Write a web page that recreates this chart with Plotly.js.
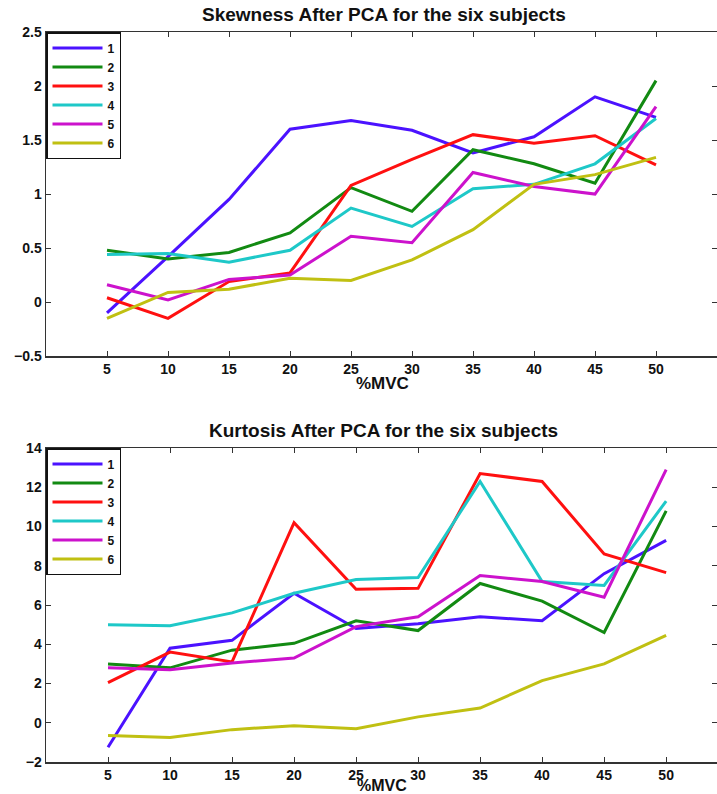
<!DOCTYPE html>
<html>
<head>
<meta charset="utf-8">
<script src="https://cdn.plot.ly/plotly-3.0.1.min.js"></script>
<style>html,body{margin:0;padding:0;background:#fff;}#chart{width:717px;height:794px;}</style>
</head>
<body>
<div id="chart"></div>
<script>
const mvc = [5, 10, 15, 20, 25, 30, 35, 40, 45, 50];
const seriesNames = ['1', '2', '3', '4', '5', '6'];
const colors = ['#4b12ff', '#128a12', '#ff1010', '#1ec8c8', '#cc12cc', '#c0c012'];

// Skewness after PCA
const skew1 = [-0.10, 0.42, 0.95, 1.60, 1.68, 1.59, 1.38, 1.53, 1.90, 1.71];
const skew2 = [0.48, 0.40, 0.46, 0.64, 1.06, 0.84, 1.41, 1.28, 1.10, 2.05];
const skew3 = [0.04, -0.15, 0.19, 0.27, 1.08, 1.32, 1.55, 1.47, 1.54, 1.27];
const skew4 = [0.44, 0.45, 0.37, 0.48, 0.87, 0.70, 1.05, 1.09, 1.28, 1.70];
const skew5 = [0.16, 0.02, 0.21, 0.25, 0.61, 0.55, 1.20, 1.07, 1.00, 1.81];
const skew6 = [-0.15, 0.09, 0.12, 0.22, 0.20, 0.39, 0.67, 1.09, 1.18, 1.34];

// Kurtosis after PCA
const kurt1 = [-1.25, 3.8, 4.2, 6.6, 4.8, 5.05, 5.4, 5.2, 7.6, 9.3];
const kurt2 = [3.0, 2.8, 3.7, 4.05, 5.2, 4.7, 7.1, 6.2, 4.6, 10.8];
const kurt3 = [2.05, 3.6, 3.1, 10.2, 6.8, 6.85, 12.7, 12.3, 8.6, 7.65];
const kurt4 = [5.0, 4.95, 5.6, 6.6, 7.3, 7.4, 12.3, 7.2, 7.0, 11.3];
const kurt5 = [2.8, 2.7, 3.05, 3.3, 4.9, 5.4, 7.5, 7.2, 6.4, 12.9];
const kurt6 = [-0.65, -0.75, -0.35, -0.15, -0.3, 0.3, 0.75, 2.15, 3.0, 4.45];

const xTicks = [5, 10, 15, 20, 25, 30, 35, 40, 45, 50];
const skewTicks = [-0.5, 0, 0.5, 1, 1.5, 2, 2.5];
const kurtTicks = [-2, 0, 2, 4, 6, 8, 10, 12, 14];

const skewData = [skew1, skew2, skew3, skew4, skew5, skew6];
const kurtData = [kurt1, kurt2, kurt3, kurt4, kurt5, kurt6];

const traces = [];
skewData.forEach((ys, i) => traces.push({
  x: mvc, y: ys, type: 'scatter', mode: 'lines', name: seriesNames[i],
  line: {color: colors[i], width: 3}, xaxis: 'x', yaxis: 'y', legend: 'legend'
}));
kurtData.forEach((ys, i) => traces.push({
  x: mvc, y: ys, type: 'scatter', mode: 'lines', name: seriesNames[i],
  line: {color: colors[i], width: 3}, xaxis: 'x2', yaxis: 'y2', legend: 'legend2'
}));

const FAM = 'Liberation Sans, Arial, sans-serif';
const tickFont = {family: FAM, size: 14, color: '#111', weight: 'bold'};
const axCommon = {
  showgrid: false, zeroline: false, showline: true, linecolor: '#333', linewidth: 1.5,
  mirror: 'ticks', ticks: 'inside', ticklen: 5, tickcolor: '#333', tickwidth: 1,
  tickfont: tickFont
};
const legCommon = {
  bgcolor: '#fff', bordercolor: '#111', borderwidth: 1.5,
  font: {family: FAM, size: 12, color: '#111', weight: 'bold'},
  xanchor: 'left', yanchor: 'top', x: 0, tracegroupgap: 0, itemwidth: 50
};
const xTitleFont = {family: FAM, size: 16, color: '#111', weight: 'bold'};
const titleFont = {family: FAM, size: 19, color: '#111', weight: 'bold'};

const layout = {
  width: 717, height: 794,
  margin: {l: 46, r: 0, t: 32, b: 32},
  paper_bgcolor: '#fff', plot_bgcolor: '#fff',
  showlegend: true,
  xaxis: Object.assign({}, axCommon, {domain: [0, 1], range: [0, 55], tickvals: xTicks, anchor: 'y'}),
  yaxis: Object.assign({}, axCommon, {domain: [0.556, 1], range: [-0.5, 2.5], tickvals: skewTicks, anchor: 'x'}),
  xaxis2: Object.assign({}, axCommon, {domain: [0, 1], range: [0, 54.1], tickvals: xTicks, anchor: 'y2'}),
  yaxis2: Object.assign({}, axCommon, {domain: [0, 0.43], range: [-2, 14], tickvals: kurtTicks, anchor: 'x2'}),
  legend: Object.assign({}, legCommon, {y: 1}),
  legend2: Object.assign({}, legCommon, {y: 0.43}),
  annotations: [
    {text: 'Skewness After PCA for the six subjects', xref: 'paper', yref: 'paper', x: 0.503, y: 1, yanchor: 'bottom', yshift: 5, showarrow: false,
     font: titleFont},
    {text: 'Kurtosis After PCA for the six subjects', xref: 'paper', yref: 'paper', x: 0.503, y: 0.43, yanchor: 'bottom', yshift: 5, showarrow: false,
     font: titleFont},
    {text: '%MVC', xref: 'paper', yref: 'paper', x: 0.502, y: 0.556, yanchor: 'middle', yshift: -27, showarrow: false,
     font: {family: FAM, size: 17, color: '#111', weight: 'bold'}},
    {text: '%MVC', xref: 'paper', yref: 'paper', x: 0.5, y: 0, yanchor: 'middle', yshift: -23, showarrow: false,
     font: xTitleFont}
  ]
};

Plotly.newPlot('chart', traces, layout, {displayModeBar: false, staticPlot: true});
</script>
</body>
</html>
